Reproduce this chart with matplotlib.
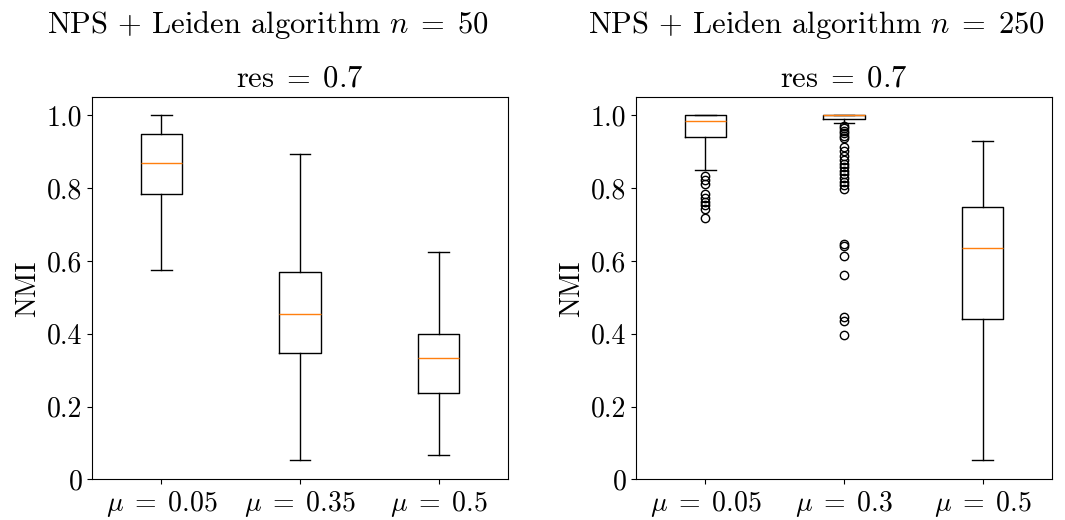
import matplotlib
matplotlib.use("Agg")
import matplotlib.pyplot as plt

plt.rcParams["font.family"] = "serif"
plt.rcParams["font.serif"] = ["cmr10"]
plt.rcParams["mathtext.fontset"] = "cm"
plt.rcParams["axes.unicode_minus"] = False

# summary statistics of NMI per mixing parameter
left_labels = [r"$\mu \;=\; 0.05$", r"$\mu \;=\; 0.35$", r"$\mu \;=\; 0.5$"]
left_q1 = [0.785, 0.347, 0.238]
left_med = [0.869, 0.455, 0.334]
left_q3 = [0.949, 0.570, 0.400]
left_lo = [0.575, 0.052, 0.067]
left_hi = [1.0, 0.894, 0.624]
left_fliers = [[], [], []]

right_labels = [r"$\mu \;=\; 0.05$", r"$\mu \;=\; 0.3$", r"$\mu \;=\; 0.5$"]
right_q1 = [0.940, 0.989, 0.440]
right_med = [0.985, 1.0, 0.635]
right_q3 = [1.0, 1.0, 0.748]
right_lo = [0.851, 0.980, 0.052]
right_hi = [1.0, 1.0, 0.931]
right_fliers = [
    [0.833, 0.823, 0.812, 0.783, 0.772, 0.762, 0.753, 0.744, 0.717],
    [0.972, 0.965, 0.958, 0.951, 0.944, 0.937, 0.912, 0.902, 0.890, 0.878,
     0.868, 0.858, 0.848, 0.838, 0.828, 0.818, 0.808, 0.797,
     0.648, 0.640, 0.614, 0.562, 0.446, 0.435, 0.397],
    [],
]

ytick_vals = [0, 0.2, 0.4, 0.6, 0.8, 1.0]
ytick_text = ["0", "0.2", "0.4", "0.6", "0.8", "1.0"]


def make_stats(q1, med, q3, lo, hi, fliers):
    return [dict(q1=a, med=b, q3=c, whislo=d, whishi=e, fliers=f)
            for a, b, c, d, e, f in zip(q1, med, q3, lo, hi, fliers)]


fig = plt.figure(figsize=(10.65, 5.2), dpi=100)
ax1 = fig.add_axes([0.0864, 0.0783, 0.3906, 0.7346])
ax2 = fig.add_axes([0.5972, 0.0783, 0.3906, 0.7346])

panels = [
    (ax1, make_stats(left_q1, left_med, left_q3, left_lo, left_hi, left_fliers),
     left_labels, r"NPS + Leiden algorithm $n \;=\; 50$", 0.423),
    (ax2, make_stats(right_q1, right_med, right_q3, right_lo, right_hi, right_fliers),
     right_labels, r"NPS + Leiden algorithm $n \;=\; 250$", 0.433),
]

for ax, stats, labels, title, title_x in panels:
    ax.bxp(stats, showfliers=True)
    ax.set_xticks([1, 2, 3])
    ax.set_xticklabels(labels, fontsize=20)
    ax.set_yticks(ytick_vals)
    ax.set_yticklabels(ytick_text, fontsize=20)
    ax.set_ylim(0, 1.05)
    ax.set_xlim(0.5, 3.5)
    ax.set_ylabel("NMI", fontsize=20)
    # two-line heading: main title and resolution parameter
    ax.annotate(title, xy=(title_x, 1), xycoords="axes fraction",
                xytext=(0, 46), textcoords="offset points",
                ha="center", va="baseline", fontsize=22)
    ax.annotate(r"$\mathrm{res} \;=\; 0.7$", xy=(0.5, 1), xycoords="axes fraction",
                xytext=(0, 8), textcoords="offset points",
                ha="center", va="baseline", fontsize=22)

fig.savefig("out.png", dpi=100)
